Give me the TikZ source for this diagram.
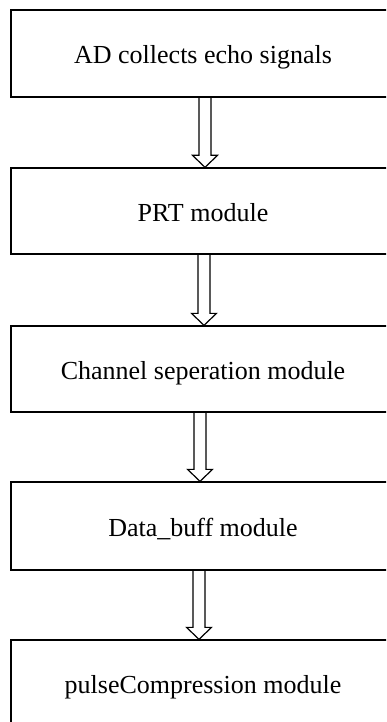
\documentclass[tikz,border=0pt]{standalone}
\usepackage{fontspec}
\setmainfont{Liberation Serif}
\usetikzlibrary{calc}
\tikzset{
  stagebox/.style={draw=black, line width=1.3pt, rectangle, minimum width=384pt, inner sep=0pt,
    text height=24pt, text depth=4pt,
    font=\fontsize{26}{30}\selectfont},
  arrowline/.style={draw=black, line width=1.2pt, line join=miter},
}
\newcommand\fatarrow[3]{%
  \draw[arrowline] let \p1=(#1.south), \p2=(#2.north) in
    (\x1+#3-6pt,\y1) -- (\x1+#3-6pt,\y2+12pt) -- (\x1+#3-12.5pt,\y2+12pt)
    -- (\x1+#3,\y2) -- (\x1+#3+12.5pt,\y2+12pt) -- (\x1+#3+6pt,\y2+12pt)
    -- (\x1+#3+6pt,\y1);}
\begin{document}
\begin{tikzpicture}[x=1pt,y=1pt]
\useasboundingbox (0,0) rectangle (386,-722);
\clip (0,0) rectangle (386,-722);
\node[stagebox, minimum height=87pt] (b1) at (203,-53.5) {AD collects echo signals};
\node[stagebox, minimum height=86pt] (b2) at (203,-211) {PRT module};
\node[stagebox, minimum height=86pt] (b3) at (203,-369) {Channel seperation module};
\node[stagebox, minimum height=88pt] (b4) at (203,-526) {Data\_buff module};
\node[stagebox, minimum height=87pt] (b5) at (203,-683.5) {pulseCompression module};
\fatarrow{b1}{b2}{2pt}
\fatarrow{b2}{b3}{1pt}
\fatarrow{b3}{b4}{-3pt}
\fatarrow{b4}{b5}{-4pt}
\end{tikzpicture}
\end{document}
